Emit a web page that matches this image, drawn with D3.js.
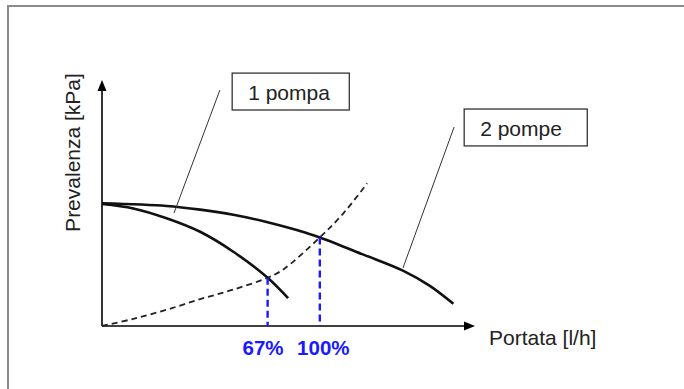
<!DOCTYPE html>
<html>
<head>
<meta charset="utf-8">
<script src="https://cdn.jsdelivr.net/npm/d3@7"></script>
<style>
  body { margin: 0; background: #fff; }
  svg { display: block; font-family: "Liberation Sans", Arial, sans-serif; }
</style>
</head>
<body>
<div id="chart"></div>
<script>
// curves in schematic units (x: flow, y: head), both 0..100 along the axes
let onePump = [[0, 49.6], [8.4, 47.8], [17.3, 43.8], [26.3, 38.3], [35.2, 30.2], [44.4, 19.6], [49.9, 11.3]];
let twoPumps = [[0, 49.9], [17.3, 48.8], [26.3, 47.3], [35.2, 45.2], [44.4, 42.2], [52.2, 39.0], [58.4, 36.0], [70.1, 29.0], [80.8, 22.4], [87.9, 16.3], [94.2, 9.0]];
let systemCurve = [[0, 0], [8.4, 2.9], [17.3, 6.6], [26.3, 10.9], [35.2, 14.8], [44.4, 19.6], [48.6, 23.0], [58.4, 36.0], [64.6, 45.6], [71.1, 58.0]];

let operatingPoints = [[44.4, 19.6], [58.4, 36.0]];
let percentLabels = ["67%", "100%"];
let percentShift = [-4.6, 3.5];

// label boxes: text, box corner (x, y), box size, leader from -> to
let annoLabels = ["1 pompa", "2 pompe"];
let annoBoxes = [[34.9, 102.8, 31.4, 15.0], [97.1, 88.2, 33.0, 15.0]];
let annoLeaders = [[[31.6, 95.9], [19.3, 45.9]], [[94.4, 80.9], [80.7, 23.6]]];

let xTitle = "Portata [l/h]";
let yTitle = "Prevalenza [kPa]";

let width = 684;
let height = 389;

let svg = d3.select("#chart")
  .append("svg")
  .attr("width", width)
  .attr("height", height);

// frame (only top and left edges are visible in the crop)
svg.append("path")
  .attr("d", "M8,389 V6 H684")
  .attr("fill", "none")
  .attr("stroke", "#8a8a8a")
  .attr("stroke-width", 2);

let x = d3.scaleLinear().domain([0, 100]).range([102, 475]);
let y = d3.scaleLinear().domain([0, 100]).range([326, 80]);

// axes without ticks
svg.append("g")
  .attr("transform", "translate(0," + y(0) + ")")
  .call(d3.axisBottom(x).tickValues([]).tickSizeOuter(0))
  .select(".domain")
  .attr("stroke-width", 1.6)
  .attr("d", "M" + x(0) + ",0H" + (x(100) - 8));

svg.append("g")
  .attr("transform", "translate(" + x(0) + ",0)")
  .call(d3.axisLeft(y).tickValues([]).tickSizeOuter(0))
  .select(".domain")
  .attr("stroke-width", 1.6)
  .attr("d", "M0," + y(0) + "V" + (y(100) + 8));

svg.append("path")
  .attr("d", "M" + x(100) + "," + y(0) + "l-11,-4.5v9z")
  .attr("fill", "#000");
svg.append("path")
  .attr("d", "M" + x(0) + "," + y(100) + "l-4.5,11h9z")
  .attr("fill", "#000");

let line = d3.line()
  .x(d => x(d[0]))
  .y(d => y(d[1]))
  .curve(d3.curveCatmullRom.alpha(0.5));

svg.append("path")
  .datum(systemCurve)
  .attr("d", line)
  .attr("fill", "none")
  .attr("stroke", "#222")
  .attr("stroke-width", 1.8)
  .attr("stroke-dasharray", "6,4");

[onePump, twoPumps].forEach(function(c) {
  svg.append("path")
    .datum(c)
    .attr("d", line)
    .attr("fill", "none")
    .attr("stroke", "#111")
    .attr("stroke-width", 2.6);
});

// operating points down to the flow axis
svg.selectAll(".drop")
  .data(operatingPoints)
  .enter()
  .append("line")
  .attr("class", "drop")
  .attr("x1", d => x(d[0]))
  .attr("x2", d => x(d[0]))
  .attr("y1", d => y(d[1]))
  .attr("y2", y(0))
  .attr("stroke", "#1a1aff")
  .attr("stroke-width", 2.4)
  .attr("stroke-dasharray", "7,4");

svg.selectAll(".pct")
  .data(operatingPoints)
  .enter()
  .append("text")
  .attr("class", "pct")
  .attr("x", (d, i) => x(d[0]) + percentShift[i])
  .attr("y", 355)
  .attr("text-anchor", "middle")
  .attr("font-size", 20.5)
  .attr("font-weight", "bold")
  .attr("fill", "#1a1aff")
  .text((d, i) => percentLabels[i]);

// annotations
annoLabels.forEach(function(label, i) {
  let b = annoBoxes[i];
  let l = annoLeaders[i];
  svg.append("line")
    .attr("x1", x(l[0][0]))
    .attr("y1", y(l[0][1]))
    .attr("x2", x(l[1][0]))
    .attr("y2", y(l[1][1]))
    .attr("stroke", "#333")
    .attr("stroke-width", 1);
  svg.append("rect")
    .attr("x", x(b[0]))
    .attr("y", y(b[1]))
    .attr("width", x(b[2]) - x(0))
    .attr("height", y(0) - y(b[3]))
    .attr("fill", "#fff")
    .attr("stroke", "#333")
    .attr("stroke-width", 1.3);
  svg.append("text")
    .attr("x", x(b[0]) + 16)
    .attr("y", y(b[1]) + 27)
    .attr("font-size", 21)
    .attr("fill", "#222")
    .text(label);
});

svg.append("text")
  .attr("x", 489)
  .attr("y", 345)
  .attr("font-size", 21)
  .attr("fill", "#222")
  .text(xTitle);

svg.append("text")
  .attr("transform", "translate(80,152.5)rotate(-90)")
  .attr("text-anchor", "middle")
  .attr("font-size", 21)
  .attr("fill", "#222")
  .text(yTitle);
</script>
</body>
</html>
